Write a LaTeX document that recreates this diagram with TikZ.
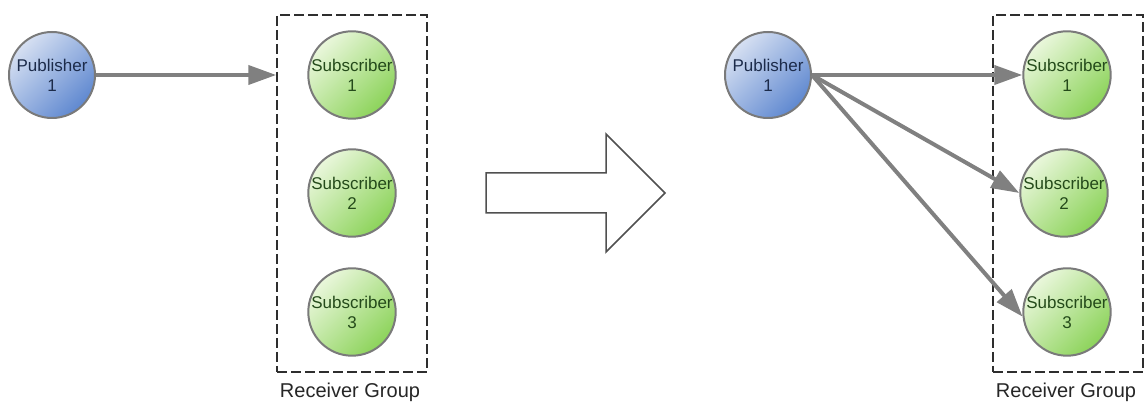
\documentclass[tikz,border=0pt]{standalone}
\usepackage{fontspec}
\setmainfont{Liberation Sans}
\usetikzlibrary{arrows.meta}

\definecolor{ringgray}{HTML}{7A7A7A}
\definecolor{linkgray}{HTML}{808080}
\definecolor{dashgray}{HTML}{2E2E2E}
\definecolor{bigarrow}{HTML}{505050}
\definecolor{publight}{HTML}{D6E0F2}
\definecolor{pubdark}{HTML}{5F88D0}
\definecolor{pubtext}{HTML}{1C2B4A}
\definecolor{sublight}{HTML}{EAF7DC}
\definecolor{subdark}{HTML}{8CD35A}
\definecolor{subtext}{HTML}{244A1A}

\tikzset{
  peer/.style={circle, draw=ringgray, line width=2pt, minimum size=86pt,
    inner sep=0pt, align=center, font=\fontsize{17}{20}\selectfont},
  publisher/.style={peer, top color=publight, bottom color=pubdark,
    shading angle=45, text=pubtext},
  subscriber/.style={peer, top color=sublight, bottom color=subdark,
    shading angle=45, text=subtext},
  groupbox/.style={draw=dashgray, line width=1.5pt, dash pattern=on 10pt off 4pt,
    minimum width=150pt, minimum height=357pt, inner sep=0pt},
  grouplabel/.style={font=\fontsize{20}{24}\selectfont, text=black!85},
  link/.style={draw=linkgray, line width=4pt,
    -{Triangle[length=28pt,width=19pt]}},
  bigarrowstyle/.style={draw=bigarrow, line width=1.5pt, fill=white, line join=miter}
}

\begin{document}
\begin{tikzpicture}[x=1pt,y=-1pt]
\useasboundingbox (0,0) rectangle (1144,411);

% ---- left: one publisher sending to the group ----
\node[groupbox] (grp1) at (352,193.5) {};
\node[publisher] (pub1) at (52,75) {Publisher\\1};
\node[subscriber] (sub1) at (352,75) {Subscriber\\1};
\node[subscriber] (sub2) at (352,193) {Subscriber\\2};
\node[subscriber] (sub3) at (352,312) {Subscriber\\3};
\node[grouplabel] (lbl1) at (350,392) {Receiver Group};
\draw[link] (pub1.east) -- (pub1 -| grp1.west);

% ---- transition arrow ----
\draw[bigarrowstyle] (486,173) -- (606,173) -- (606,134) -- (665,193)
  -- (606,252) -- (606,213) -- (486,213) -- cycle;

% ---- right: the publisher sending to every member ----
\node[groupbox] (grp2) at (1068,193.5) {};
\node[publisher] (pub2) at (768,75) {Publisher\\1};
\node[subscriber] (sub4) at (1067,75) {Subscriber\\1};
\node[subscriber] (sub5) at (1064,193) {Subscriber\\2};
\node[subscriber] (sub6) at (1067,312) {Subscriber\\3};
\node[grouplabel] (lbl2) at (1066,392) {Receiver Group};
\draw[link] (pub2.east) -- (sub4.west);
\draw[link] (pub2.east) -- (sub5.west);
\draw[link] (pub2.east) -- (sub6.186);
\end{tikzpicture}
\end{document}
